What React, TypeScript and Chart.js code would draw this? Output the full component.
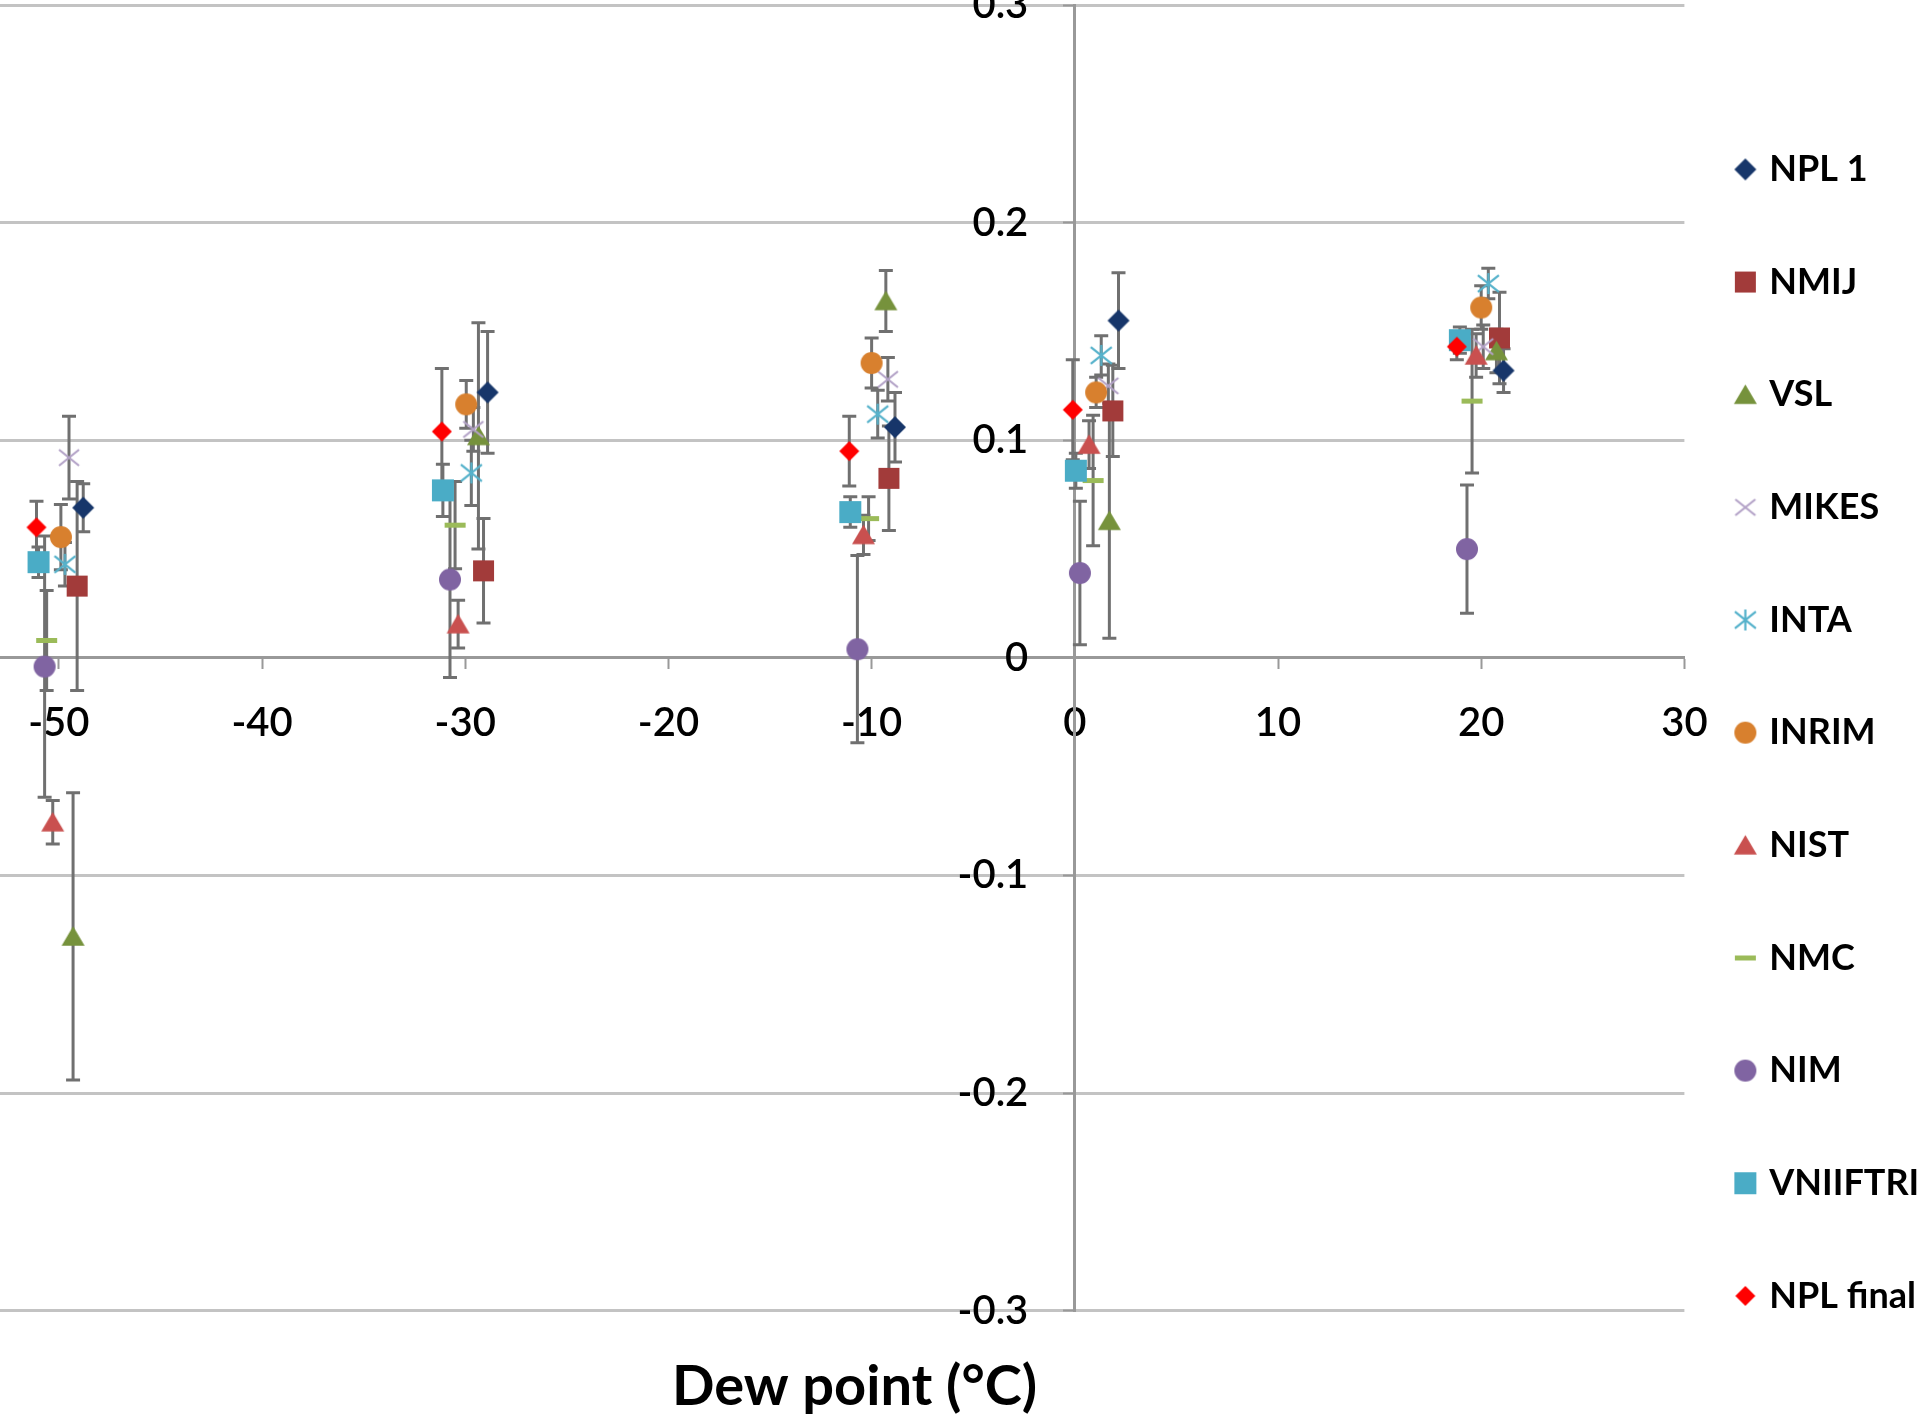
import { useEffect, useRef } from "react";
import { Chart, registerables } from "chart.js";

Chart.register(...registerables);

// ---------- data ----------
const seriesLabels = ["NPL 1", "NMIJ", "VSL", "MIKES", "INTA", "INRIM", "NIST", "NMC", "NIM", "VNIIFTRI", "NPL final"];

const npl1X = [-48.8, -28.9, -8.85, 2.15, 21.1];
const npl1Y = [0.069, 0.122, 0.106, 0.155, 0.132];
const npl1Err = [0.011, 0.028, 0.016, 0.022, 0.01];

const nmijX = [-49.1, -29.1, -9.15, 1.87, 20.9];
const nmijY = [0.033, 0.04, 0.0825, 0.1135, 0.147];
const nmijErr = [0.048, 0.024, 0.024, 0.021, 0.021];

const vslX = [-49.3, -29.35, -9.3, 1.7, 20.75];
const vslY = [-0.128, 0.102, 0.164, 0.063, 0.141];
const vslErr = [0.066, 0.052, 0.014, 0.054, 0.01];

const mikesX = [-49.5, -29.6, -9.2, 1.65, 20.1];
const mikesY = [0.092, 0.105, 0.128, 0.125, 0.143];
const mikesErr = [0.019, 0.01, 0.01, 0.01, 0.01];

const intaX = [-49.7, -29.7, -9.7, 1.3, 20.35];
const intaY = [0.043, 0.085, 0.112, 0.139, 0.172];
const intaErr = [0.01, 0.015, 0.011, 0.009, 0.007];

const inrimX = [-49.9, -29.95, -10.0, 1.05, 20.0];
const inrimY = [0.0555, 0.1165, 0.1355, 0.122, 0.161];
const inrimErr = [0.015, 0.011, 0.0115, 0.007, 0.01];

const nistX = [-50.3, -30.35, -10.4, 0.7, 19.75];
const nistY = [-0.0755, 0.0155, 0.0565, 0.098, 0.139];
const nistErr = [0.01, 0.011, 0.009, 0.011, 0.01];

const nmcX = [-50.6, -30.5, -10.15, 0.9, 19.55];
const nmcY = [0.008, 0.061, 0.064, 0.0815, 0.118];
const nmcErr = [0.023, 0.02, 0.01, 0.03, 0.033];

const nimX = [-50.7, -30.75, -10.7, 0.25, 19.3];
const nimY = [-0.004, 0.036, 0.004, 0.039, 0.05];
const nimErr = [0.06, 0.045, 0.043, 0.033, 0.0295];

const vniiftriX = [-51.0, -31.1, -11.05, 0.05, 18.95];
const vniiftriY = [0.044, 0.077, 0.067, 0.086, 0.146];
const vniiftriErr = [0.007, 0.012, 0.007, 0.008, 0.006];

const nplFinalX = [-51.1, -31.15, -11.1, -0.1, 18.8];
const nplFinalY = [0.06, 0.104, 0.095, 0.114, 0.143];
const nplFinalErr = [0.012, 0.029, 0.016, 0.023, 0.006];

const xTickStep = 10;
const yTickStep = 0.1;
const X_MIN = -60;
const X_MAX = 30;
const Y_MIN = -0.3;
const Y_MAX = 0.3;
const titleText = "Dew point (°C)";

// ---------- layout / style constants ----------
const X_ZERO_PX = 1074.5; // viewport position of x = 0
const Y_ZERO_PX = 657.5; // viewport position of y = 0
const PX_PER_X = 20.32;
const PX_PER_Y = 2176;
const PLOT_W = (X_MAX - X_MIN) * PX_PER_X;
const PLOT_H = (Y_MAX - Y_MIN) * PX_PER_Y;
const TITLE_CX = 855;
const LEGEND_W = 2 * (TITLE_CX - (X_ZERO_PX + (X_MIN + X_MAX) / 2 * PX_PER_X));
const PAD_LEFT = 60;
const PAD_RIGHT = 140;
const Y_LABEL_GAP = 46.5; // px between the y axis line and the right edge of its labels
const Y_LABEL_AT = -Y_LABEL_GAP / PX_PER_X;

const LEG_FS = 36;
const LEG_BOX = 12;
const LEG_SPACING = 112.65;
const LEG_PAD = LEG_SPACING - LEG_FS;
const LEG_MARK_X = 1745;
const LEG_FIRST_Y = 169;

const FONT = "Lato, 'Open Sans', sans-serif";
const GRID = "#c3c3c3";
const AXIS = "#999999";
const ERR = "#707070";

type Kind = "diamond" | "square" | "triangle" | "x" | "star" | "circle" | "dash";

function marker(kind: Kind, color: string, size: number): HTMLCanvasElement {
  const s = Math.ceil(size + 6);
  const c = document.createElement("canvas");
  c.width = s;
  c.height = s;
  const g = c.getContext("2d")!;
  const m = s / 2;
  const r = size / 2;
  g.fillStyle = color;
  g.strokeStyle = color;
  g.beginPath();
  switch (kind) {
    case "diamond":
      g.moveTo(m, m - r);
      g.lineTo(m + r, m);
      g.lineTo(m, m + r);
      g.lineTo(m - r, m);
      g.closePath();
      g.fill();
      break;
    case "square":
      g.fillRect(m - r, m - r, size, size);
      break;
    case "triangle":
      g.moveTo(m, m - r * 0.9);
      g.lineTo(m + r, m + r * 0.8);
      g.lineTo(m - r, m + r * 0.8);
      g.closePath();
      g.fill();
      break;
    case "circle":
      g.arc(m, m, r, 0, Math.PI * 2);
      g.fill();
      break;
    case "x":
      g.lineWidth = 2.2;
      g.moveTo(m - r, m - r * 0.8);
      g.lineTo(m + r, m + r * 0.8);
      g.moveTo(m + r, m - r * 0.8);
      g.lineTo(m - r, m + r * 0.8);
      g.stroke();
      break;
    case "star":
      g.lineWidth = 2.2;
      g.moveTo(m - r, m - r * 0.8);
      g.lineTo(m + r, m + r * 0.8);
      g.moveTo(m + r, m - r * 0.8);
      g.lineTo(m - r, m + r * 0.8);
      g.moveTo(m, m - r);
      g.lineTo(m, m + r);
      g.stroke();
      break;
    case "dash":
      g.fillRect(m - r, m - 2.5, size, 5);
      break;
  }
  return c;
}

interface Series {
  label: string;
  x: number[];
  y: number[];
  err: number[];
  kind: Kind;
  color: string;
  size: number;
}

const SERIES: Series[] = [
  { label: seriesLabels[0], x: npl1X, y: npl1Y, err: npl1Err, kind: "diamond", color: "#17366a", size: 22 },
  { label: seriesLabels[1], x: nmijX, y: nmijY, err: nmijErr, kind: "square", color: "#a23b3a", size: 21 },
  { label: seriesLabels[2], x: vslX, y: vslY, err: vslErr, kind: "triangle", color: "#76923c", size: 23 },
  { label: seriesLabels[3], x: mikesX, y: mikesY, err: mikesErr, kind: "x", color: "#b3a2c7", size: 20 },
  { label: seriesLabels[4], x: intaX, y: intaY, err: intaErr, kind: "star", color: "#56b2cb", size: 21 },
  { label: seriesLabels[5], x: inrimX, y: inrimY, err: inrimErr, kind: "circle", color: "#d8802e", size: 22 },
  { label: seriesLabels[6], x: nistX, y: nistY, err: nistErr, kind: "triangle", color: "#c9504f", size: 23 },
  { label: seriesLabels[7], x: nmcX, y: nmcY, err: nmcErr, kind: "dash", color: "#9bbb59", size: 21 },
  { label: seriesLabels[8], x: nimX, y: nimY, err: nimErr, kind: "circle", color: "#8064a2", size: 22 },
  { label: seriesLabels[9], x: vniiftriX, y: vniiftriY, err: vniiftriErr, kind: "square", color: "#4aacc6", size: 22 },
  { label: seriesLabels[10], x: nplFinalX, y: nplFinalY, err: nplFinalErr, kind: "diamond", color: "#ff0000", size: 20 },
];

const errorBarPlugin = {
  id: "errorBars",
  beforeDatasetsDraw(chart: any) {
    const { ctx, chartArea } = chart;
    const xs = chart.scales.x;
    const ys = chart.scales.y;
    ctx.save();
    ctx.beginPath();
    ctx.rect(chartArea.left, chartArea.top, chartArea.right - chartArea.left, chartArea.bottom - chartArea.top);
    ctx.clip();
    ctx.strokeStyle = ERR;
    SERIES.forEach((s) => {
      s.x.forEach((xv, i) => {
        const px = xs.getPixelForValue(xv);
        const top = ys.getPixelForValue(s.y[i] + s.err[i]);
        const bot = ys.getPixelForValue(s.y[i] - s.err[i]);
        ctx.lineWidth = 3;
        ctx.beginPath();
        ctx.moveTo(px, top);
        ctx.lineTo(px, bot);
        ctx.stroke();
        ctx.beginPath();
        ctx.moveTo(px - 7, top);
        ctx.lineTo(px + 7, top);
        ctx.moveTo(px - 7, bot);
        ctx.lineTo(px + 7, bot);
        ctx.stroke();
      });
    });
    ctx.restore();
  },
};

const legendPlacePlugin = {
  id: "legendPlace",
  afterLayout(chart: any) {
    const lg = chart.legend;
    if (!lg) return;
    const offX = X_ZERO_PX - chart.scales.x.getPixelForValue(0);
    const offY = Y_ZERO_PX - chart.scales.y.getPixelForValue(0);
    const left = LEG_MARK_X - offX - LEG_PAD - LEG_BOX / 2;
    const top = LEG_FIRST_Y - offY - LEG_PAD - LEG_FS / 2;
    lg.left = left;
    lg.right = left + 700;
    lg.top = top;
    lg.bottom = top + 1600;
  },
};

function fmtY(v: number) {
  const r = Math.round(v * 10) / 10;
  return r === 0 ? "0" : String(r);
}

const tickFont = { family: FONT, size: 40, weight: "600" };

function buildConfig(): any {
  return {
    type: "scatter",
    data: {
      datasets: SERIES.map((s, i) => ({
        label: s.label,
        data: s.x.map((xv, j) => ({ x: xv, y: s.y[j] })),
        pointStyle: marker(s.kind, s.color, s.size),
        pointRadius: 10,
        pointHoverRadius: 10,
        backgroundColor: s.color,
        borderColor: s.color,
        showLine: false,
        order: SERIES.length - i,
      })),
    },
    options: {
      animation: false,
      responsive: false,
      maintainAspectRatio: false,
      devicePixelRatio: 1,
      events: [],
      layout: { padding: { left: PAD_LEFT, right: PAD_RIGHT, top: 0, bottom: 0 } },
      scales: {
        x: {
          type: "linear",
          min: X_MIN,
          max: X_MAX,
          position: { y: 0 },
          ticks: {
            stepSize: xTickStep,
            autoSkip: false,
            maxRotation: 0,
            padding: 31,
            color: "#000",
            font: tickFont,
            callback: (v: number) => String(v),
          },
          grid: { drawOnChartArea: false, drawTicks: true, tickLength: 10, tickColor: AXIS, tickWidth: 2 },
          border: { display: true, color: AXIS, width: 3 },
        },
        y: {
          type: "linear",
          min: Y_MIN,
          max: Y_MAX,
          position: { x: 0 },
          ticks: {
            stepSize: yTickStep,
            autoSkip: false,
            display: false,
          },
          grid: {
            color: (c: any) => (c.tick && Math.abs(c.tick.value) < 1e-9 ? AXIS : GRID),
            lineWidth: 3,
            drawTicks: true,
            tickLength: 10,
            tickColor: AXIS,
            tickWidth: 2,
          },
          border: { display: true, color: AXIS, width: 3 },
        },
        yLabels: {
          type: "linear",
          axis: "y",
          min: Y_MIN,
          max: Y_MAX,
          position: { x: Y_LABEL_AT },
          ticks: {
            stepSize: yTickStep,
            autoSkip: false,
            padding: 0,
            color: "#000",
            font: tickFont,
            callback: (v: number) => fmtY(v),
          },
          grid: { display: false, drawTicks: false },
          border: { display: false },
        },
      },
      plugins: {
        tooltip: { enabled: false },
        legend: {
          display: true,
          position: "right",
          align: "start",
          maxWidth: LEGEND_W,
          labels: {
            usePointStyle: true,
            boxWidth: LEG_BOX,
            boxHeight: LEG_BOX,
            padding: LEG_PAD,
            color: "#000",
            font: { family: FONT, size: LEG_FS, weight: "bold" },
            sort: (a: any, b: any) => a.datasetIndex - b.datasetIndex,
          },
        },
        title: {
          display: true,
          position: "bottom",
          text: titleText,
          color: "#000",
          font: { family: FONT, size: 56, weight: "bold" },
          padding: { top: 43, bottom: 0 },
        },
      },
    },
    plugins: [errorBarPlugin, legendPlacePlugin],
  };
}

export default function App() {
  const ref = useRef<HTMLCanvasElement>(null);
  useEffect(() => {
    const canvas = ref.current;
    if (!canvas) return;
    let W = 2200;
    let H = 1450;
    const make = () => {
      canvas.width = W;
      canvas.height = H;
      canvas.style.width = W + "px";
      canvas.style.height = H + "px";
      return new Chart(canvas, buildConfig());
    };
    let chart = make();
    const ca = chart.chartArea;
    W = Math.round(W + (PLOT_W - (ca.right - ca.left)));
    H = Math.round(H + (PLOT_H - (ca.bottom - ca.top)));
    chart.destroy();
    chart = make();
    const x0 = chart.scales.x.getPixelForValue(0);
    const y0 = chart.scales.y.getPixelForValue(0);
    canvas.style.left = X_ZERO_PX - x0 + "px";
    canvas.style.top = Y_ZERO_PX - y0 + "px";
    return () => chart.destroy();
  }, []);
  return (
    <div
      style={{
        position: "fixed",
        left: 0,
        top: 0,
        width: 1920,
        height: 1421,
        overflow: "hidden",
        background: "#fff",
      }}
    >
      <canvas ref={ref} style={{ position: "absolute", left: 0, top: 0 }} />
    </div>
  );
}
